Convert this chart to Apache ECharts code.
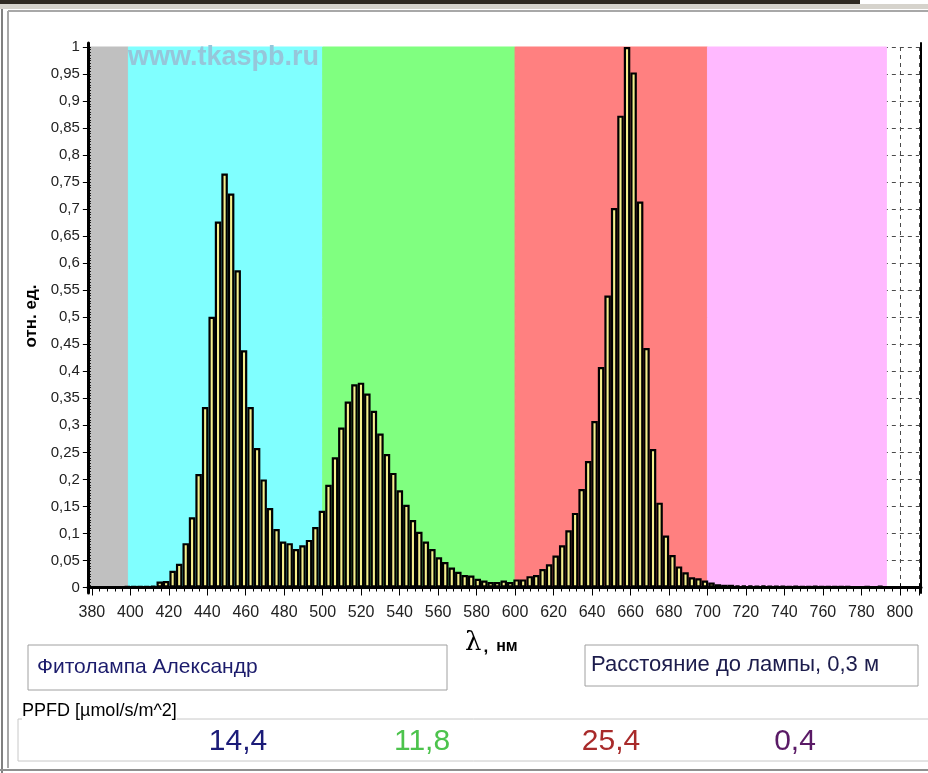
<!DOCTYPE html>
<html>
<head>
<meta charset="utf-8">
<title>Фитолампа Александр</title>
<script src="https://cdn.jsdelivr.net/npm/echarts@6/dist/echarts.min.js"></script>
<style>
  html, body { margin: 0; padding: 0; background: #fff; }
  #chart { width: 928px; height: 773px; }
</style>
</head>
<body>
<div id="chart"></div>
<script>
// bar centres, nm
const wavelengths = [
  398.4, 401.8, 405.1, 408.5, 411.9, 415.3, 418.6, 422.0, 425.4, 428.8,
  432.1, 435.5, 438.9, 442.3, 445.6, 449.0, 452.4, 455.8, 459.1, 462.5,
  465.9, 469.3, 472.6, 476.0, 479.4, 482.8, 486.1, 489.5, 492.9, 496.2,
  499.6, 503.0, 506.4, 509.7, 513.1, 516.5, 519.9, 523.2, 526.6, 530.0,
  533.4, 536.7, 540.1, 543.5, 546.9, 550.2, 553.6, 557.0, 560.4, 563.7,
  567.1, 570.5, 573.8, 577.2, 580.6, 584.0, 587.3, 590.7, 594.1, 597.5,
  600.8, 604.2, 607.6, 611.0, 614.3, 617.7, 621.1, 624.5, 627.8, 631.2,
  634.6, 638.0, 641.3, 644.7, 648.1, 651.5, 654.8, 658.2, 661.6, 665.0,
  668.3, 671.7, 675.1, 678.4, 681.8, 685.2, 688.6, 691.9, 695.3, 698.7,
  702.1, 705.4, 708.8, 712.2, 715.6, 718.9, 722.3, 725.7, 729.1, 732.4,
  735.8, 739.2, 742.5, 745.9, 749.3, 752.7, 756.0, 759.4, 762.8, 766.2,
  769.5, 772.9, 776.3, 779.7, 783.0, 786.4, 789.8
];

// relative intensity, отн. ед.
const intensity = [
  0.002, 0.002, 0.002, 0.002, 0.003, 0.011, 0.012, 0.031, 0.044, 0.082,
  0.130, 0.210, 0.334, 0.501, 0.677, 0.766, 0.729, 0.587, 0.439, 0.334,
  0.258, 0.200, 0.147, 0.108, 0.085, 0.082, 0.071, 0.078, 0.088, 0.112,
  0.142, 0.190, 0.241, 0.296, 0.344, 0.376, 0.379, 0.359, 0.327, 0.285,
  0.247, 0.212, 0.180, 0.153, 0.125, 0.103, 0.085, 0.071, 0.056, 0.047,
  0.037, 0.029, 0.023, 0.022, 0.016, 0.013, 0.010, 0.010, 0.013, 0.010,
  0.015, 0.015, 0.021, 0.023, 0.034, 0.043, 0.059, 0.078, 0.106, 0.138,
  0.182, 0.234, 0.308, 0.408, 0.540, 0.702, 0.873, 1.000, 0.953, 0.714,
  0.443, 0.256, 0.157, 0.096, 0.060, 0.039, 0.028, 0.019, 0.017, 0.013,
  0.009, 0.006, 0.005, 0.005, 0.004, 0.004, 0.004, 0.003, 0.004, 0.003,
  0.003, 0.003, 0.002, 0.003, 0.002, 0.002, 0.003, 0.002, 0.002, 0.002,
  0.002, 0.002, 0.001, 0.001, 0.002, 0.001, 0.003
];

// spectral zones behind the bars
const bandEdges = [378, 399, 500, 600, 700, 793];
const bandColors = ['#c0c0c0', '#80ffff', '#80ff80', '#ff8080', '#ffb9ff'];

// PPFD per zone, µmol/s/m^2
const ppfdValues = ['14,4', '11,8', '25,4', '0,4'];
const ppfdColors = ['#1b1b78', '#4cc34c', '#a82a2a', '#5a1a66'];

const lampName = 'Фитолампа Александр';
const distanceText = 'Расстояние до лампы, 0,3 м';

const FONT = '"Liberation Sans", Arial, sans-serif';
const dashed = { color: '#4a4a4a', width: 1, type: [4, 4] };

const bands = [];
for (let i = 0; i < bandColors.length; i++) {
  bands.push([
    { xAxis: bandEdges[i], yAxis: 0,
      itemStyle: { color: bandColors[i], opacity: 1, borderColor: bandColors[i], borderWidth: 1 } },
    { xAxis: bandEdges[i + 1], yAxis: 1 }
  ]);
}

const chart = echarts.init(document.getElementById('chart'));

const hidden = { axisTick: { show: false }, axisLabel: { show: false }, splitLine: { show: false } };

const option = {
  animation: false,
  backgroundColor: '#fff',
  grid: [
    // frame, also the coordinate system of the bars
    { left: 88, top: 43, width: 833, height: 550 },
    // ticks, labels and dashed grid
    { left: 91.85, top: 47, width: 827.2, height: 540.5 }
  ],
  xAxis: [
    Object.assign({ gridIndex: 0, type: 'value', min: 378, max: 811, position: 'bottom', z: 5,
      axisLine: { lineStyle: { color: '#000', width: 3 } } }, hidden),
    Object.assign({ gridIndex: 0, type: 'value', min: 378, max: 811, position: 'top', z: 5,
      axisLine: { lineStyle: { color: '#000', width: 2 } } }, hidden),
    {
      gridIndex: 1, type: 'value', min: 380, max: 810, interval: 20, position: 'bottom', offset: 5,
      axisLine: { show: false },
      axisTick: { length: 8, lineStyle: { color: '#000', width: 1 } },
      minorTick: { show: true, splitNumber: 5, length: 4, lineStyle: { color: '#000', width: 1 } },
      axisLabel: {
        margin: 12, fontSize: 16, color: '#222', fontFamily: FONT,
        formatter: v => (v % 20 === 0 ? String(v) : '')
      },
      splitLine: { show: true, lineStyle: dashed }
    },
    {
      gridIndex: 1, type: 'value', min: 380, max: 810, interval: 20, position: 'top', offset: 4,
      axisLine: { show: false },
      axisTick: { length: 4, lineStyle: { color: '#000' } },
      axisLabel: { show: false }, splitLine: { show: false }
    }
  ],
  yAxis: [
    Object.assign({ gridIndex: 0, type: 'value', min: -0.0102, max: 1.0074, position: 'left', z: 5,
      axisLine: { lineStyle: { color: '#000', width: 3 } } }, hidden),
    Object.assign({ gridIndex: 0, type: 'value', min: -0.0102, max: 1.0074, position: 'right', z: 5,
      axisLine: { lineStyle: { color: '#000', width: 2 } } }, hidden),
    {
      gridIndex: 1, type: 'value', min: 0, max: 1, interval: 0.05, position: 'left', offset: 4,
      axisLine: { show: false },
      axisTick: { length: 5, lineStyle: { color: '#000' } },
      axisLabel: {
        margin: 8, fontSize: 15, color: '#222', fontFamily: FONT,
        formatter: v => String(Math.round(v * 100) / 100).replace('.', ',')
      },
      splitLine: { show: true, lineStyle: dashed }
    },
    Object.assign({ gridIndex: 1, type: 'value', min: 0, max: 1, interval: 0.005, position: 'left', offset: 4, z: 5,
      axisLine: { show: false } }, hidden, { axisTick: { show: true, inside: true, length: 3, lineStyle: { color: '#000' } } })
  ],
  series: [{
    type: 'bar',
    xAxisIndex: 0,
    yAxisIndex: 0,
    barWidth: 6.5,
    data: wavelengths.map((w, i) => [w, intensity[i]]),
    itemStyle: { color: '#f4ee8c', borderColor: '#000', borderWidth: 2.2 },
    markArea: { silent: true, label: { show: false }, data: bands }
  }],
  graphic: [
    // window frame
    { type: 'rect', shape: { x: 0, y: 0, width: 860, height: 4 }, style: { fill: '#2f2a22' }, z: 20 },
    { type: 'rect', shape: { x: 0, y: 4, width: 928, height: 5 }, style: { fill: '#d6d3cc' }, z: 20 },
    { type: 'line', shape: { x1: 2, y1: 9, x2: 2, y2: 773 }, style: { stroke: '#808080', lineWidth: 2 }, z: 20 },
    { type: 'line', shape: { x1: 8, y1: 11, x2: 8, y2: 768 }, style: { stroke: '#a8a8a8', lineWidth: 2 }, z: 20 },
    { type: 'line', shape: { x1: 8, y1: 11, x2: 928, y2: 11 }, style: { stroke: '#a8a8a8', lineWidth: 2 }, z: 20 },
    { type: 'line', shape: { x1: 0, y1: 770, x2: 928, y2: 770 }, style: { stroke: '#909090', lineWidth: 2 }, z: 20 },
    // watermark
    { type: 'text', left: 128, top: 44, z: 10, style: { text: 'www.tkaspb.ru', font: 'bold 27px ' + FONT, fill: '#96c6da' } },
    // axis names
    { type: 'text', x: 31, y: 316, rotation: Math.PI / 2, z: 10,
      style: { text: 'отн. ед.', font: 'bold 17px ' + FONT, fill: '#000', align: 'center', verticalAlign: 'middle' } },
    { type: 'text', x: 465, y: 630, z: 10,
      style: { text: '{l|λ}{c|,}{n|нм}', rich: {
        l: { font: '26px "DejaVu Serif", "Liberation Serif", serif', fill: '#000' },
        c: { font: 'bold 17px ' + FONT, fill: '#000', padding: [8, 0, 0, 2] },
        n: { font: 'bold 16px ' + FONT, fill: '#000', padding: [8, 0, 0, 8] } } } },
    // lamp name box
    { type: 'rect', shape: { x: 28, y: 645, width: 419, height: 45 }, style: { fill: '#fff', stroke: '#a0a0a0', lineWidth: 1 } },
    { type: 'text', x: 37, y: 667, style: { text: lampName, font: '21px ' + FONT, fill: '#1c1c6c', verticalAlign: 'middle' } },
    // distance box
    { type: 'rect', shape: { x: 585, y: 645, width: 333, height: 41 }, style: { fill: '#fff', stroke: '#a0a0a0', lineWidth: 1 } },
    { type: 'text', x: 591, y: 665, style: { text: distanceText, font: '22px ' + FONT, fill: '#1c1c4c', verticalAlign: 'middle' } },
    // PPFD group box
    { type: 'rect', shape: { x: 18, y: 719, width: 920, height: 42 }, style: { fill: 'none', stroke: '#c8c8c8', lineWidth: 1 } },
    { type: 'text', x: 22, y: 711, style: { text: 'PPFD [µmol/s/m^2]', font: '18px ' + FONT, fill: '#000', verticalAlign: 'middle', backgroundColor: '#fff' } }
  ].concat(ppfdValues.map((v, i) => ({
    type: 'text', x: [238, 422, 611, 795][i], y: 742,
    style: { text: v, font: '30px ' + FONT, fill: ppfdColors[i], align: 'center', verticalAlign: 'middle' }
  })))
};

chart.setOption(option);
</script>
</body>
</html>
